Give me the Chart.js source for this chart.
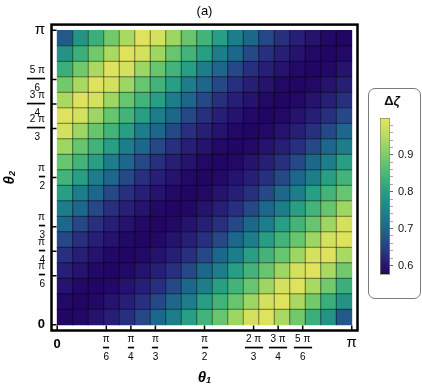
<!DOCTYPE html>
<html>
<head>
<meta charset="utf-8">
<script src="https://cdn.jsdelivr.net/npm/chart.js@4.4.1/dist/chart.umd.min.js"></script>
<style>
  body { margin: 0; background: #fff; }
  #wrap { position: relative; width: 422px; height: 390px; }
  #main { position: absolute; left: 0; top: 0; }
  #legendBox { position: absolute; left: 368px; top: 88px; width: 53px; height: 211px; box-sizing: border-box;
               border: 1.5px solid #7a7a7a; border-radius: 7px; }
  #legendTitle { position: absolute; left: 370px; top: 93px; width: 44px; text-align: center;
                 font: bold 13px 'Liberation Sans', Arial, sans-serif; color: #111; }
  #cbar { position: absolute; left: 370px; top: 90px; }
</style>
</head>
<body>
<div id="wrap">
  <canvas id="main" width="422" height="390"></canvas>
  <div id="legendBox"></div>
  <div id="legendTitle">Δ<i>ζ</i></div>
  <canvas id="cbar" width="50" height="206"></canvas>
</div>
<script>
const PI = Math.PI;
const FONT = "'Liberation Sans', Arial, sans-serif";

// 19 x 19 cells over theta1, theta2 in [0, pi]
const nCells = 19;

// tick positions and labels (fractions of pi)
const tickValues = [0, PI / 6, PI / 4, PI / 3, PI / 2, 2 * PI / 3, 3 * PI / 4, 5 * PI / 6, PI];
const xTickLabels = ['0', ['π', '━', '6'], ['π', '━', '4'], ['π', '━', '3'], ['π', '━', '2'],
                     ['2 π', '━━━', '3'], ['3 π', '━━━', '4'], ['5 π', '━━━', '6'], 'π'];
const yTickLabels = ['0', ['π', '━', '6'], ['π', '━', '4'], ['π', '━', '3'], ['π', '━', '2'],
                     ['2 π', '━━━', '3\u2002'], ['3 π', '━━━', '4\u2002'], ['5 π', '━━━', '6\u2002'], 'π'];

// delta zeta per cell, rows from theta2 = pi (top) down to theta2 = 0, columns theta1 = 0 .. pi
const dzRows = [
  [0.68,0.78,0.83,0.89,0.94,0.99,0.98,0.93,0.88,0.84,0.80,0.74,0.70,0.66,0.63,0.61,0.595,0.58,0.577],
  [0.78,0.83,0.89,0.94,0.99,0.98,0.93,0.88,0.84,0.80,0.74,0.70,0.66,0.63,0.61,0.595,0.58,0.577,0.58],
  [0.83,0.89,0.94,0.99,0.98,0.93,0.88,0.84,0.80,0.74,0.70,0.66,0.63,0.61,0.595,0.58,0.577,0.58,0.595],
  [0.89,0.94,0.99,0.98,0.93,0.88,0.84,0.80,0.74,0.70,0.66,0.63,0.61,0.595,0.58,0.577,0.58,0.595,0.61],
  [0.94,0.99,0.98,0.93,0.88,0.84,0.80,0.74,0.70,0.66,0.63,0.61,0.595,0.58,0.577,0.58,0.595,0.61,0.63],
  [0.99,0.98,0.93,0.88,0.84,0.80,0.74,0.70,0.66,0.63,0.61,0.595,0.58,0.577,0.58,0.595,0.61,0.63,0.66],
  [0.98,0.93,0.88,0.84,0.80,0.74,0.70,0.66,0.63,0.61,0.595,0.58,0.577,0.58,0.595,0.61,0.63,0.66,0.70],
  [0.93,0.88,0.84,0.80,0.74,0.70,0.66,0.63,0.61,0.595,0.58,0.577,0.58,0.595,0.61,0.63,0.66,0.70,0.74],
  [0.88,0.84,0.80,0.74,0.70,0.66,0.63,0.61,0.595,0.58,0.577,0.58,0.595,0.61,0.63,0.66,0.70,0.74,0.80],
  [0.84,0.80,0.74,0.70,0.66,0.63,0.61,0.595,0.58,0.575,0.58,0.595,0.61,0.63,0.66,0.70,0.74,0.80,0.84],
  [0.80,0.74,0.70,0.66,0.63,0.61,0.595,0.58,0.577,0.58,0.595,0.61,0.63,0.66,0.70,0.74,0.80,0.84,0.88],
  [0.74,0.70,0.66,0.63,0.61,0.595,0.58,0.577,0.58,0.595,0.61,0.63,0.66,0.70,0.74,0.80,0.84,0.88,0.93],
  [0.70,0.66,0.63,0.61,0.595,0.58,0.577,0.58,0.595,0.61,0.63,0.66,0.70,0.74,0.80,0.84,0.88,0.93,0.98],
  [0.66,0.63,0.61,0.595,0.58,0.577,0.58,0.595,0.61,0.63,0.66,0.70,0.74,0.80,0.84,0.88,0.93,0.98,0.99],
  [0.63,0.61,0.595,0.58,0.577,0.58,0.595,0.61,0.63,0.66,0.70,0.74,0.80,0.84,0.88,0.93,0.98,0.99,0.94],
  [0.61,0.595,0.58,0.577,0.58,0.595,0.61,0.63,0.66,0.70,0.74,0.80,0.84,0.88,0.93,0.98,0.99,0.94,0.89],
  [0.595,0.58,0.577,0.58,0.595,0.61,0.63,0.66,0.70,0.74,0.80,0.84,0.88,0.93,0.98,0.99,0.94,0.89,0.83],
  [0.58,0.577,0.58,0.595,0.61,0.63,0.66,0.70,0.74,0.80,0.84,0.88,0.93,0.98,0.99,0.94,0.89,0.83,0.78],
  [0.577,0.58,0.595,0.61,0.63,0.66,0.70,0.74,0.80,0.84,0.88,0.93,0.98,0.99,0.94,0.89,0.83,0.78,0.68]
];

// colour bar range and ticks
const cbMin = 0.575, cbMax = 1.0;
const cbTicks = [0.6,0.62,0.64,0.66,0.68,0.7,0.72,0.74,0.76,0.78,0.8,0.82,0.84,0.86,0.88,0.9,0.92,0.94,0.96,0.98];
const cbMajor = [0.6, 0.7, 0.8, 0.9];

// colour map stops (position 0..1 along the bar)
const cmap = [
  [0.00, [33, 6, 98]],
  [0.06, [38, 22, 112]],
  [0.15, [42, 55, 132]],
  [0.29, [30, 102, 140]],
  [0.41, [30, 130, 138]],
  [0.53, [40, 158, 132]],
  [0.65, [75, 185, 118]],
  [0.76, [122, 204, 106]],
  [0.88, [180, 220, 96]],
  [1.00, [232, 228, 92]]
];

function colorFor(v) {
  let t = (v - cbMin) / (cbMax - cbMin);
  t = Math.max(0, Math.min(1, t));
  for (let i = 1; i < cmap.length; i++) {
    if (t <= cmap[i][0]) {
      const [t0, c0] = cmap[i - 1], [t1, c1] = cmap[i];
      const f = (t - t0) / (t1 - t0);
      const c = c0.map((a, k) => Math.round(a + (c1[k] - a) * f));
      return 'rgb(' + c.join(',') + ')';
    }
  }
  return 'rgb(' + cmap[cmap.length - 1][1].join(',') + ')';
}

// build points for cells and mesh lines
const cell = PI / nCells;
const heatPoints = [];
dzRows.forEach((row, r) => {
  const j = nCells - 1 - r;
  row.forEach((v, i) => heatPoints.push({x: (i + 0.5) * cell, y: (j + 0.5) * cell, v: v}));
});
const meshV = [], meshH = [];
for (let k = 1; k < nCells; k++) {
  meshV.push({x: k * cell, y: 0}, {x: k * cell, y: PI}, {x: k * cell, y: null});
  meshH.push({x: 0, y: k * cell}, {x: PI, y: k * cell}, {x: null, y: k * cell});
}

const pad = 0.061;

function tickFont(ctx, labels) {
  const lab = labels[ctx.index];
  if (lab === '0') return {family: FONT, size: 13, weight: 'bold', lineHeight: '18px'};
  if (lab === 'π') return {family: FONT, size: 15, lineHeight: '20px'};
  return {family: FONT, size: 10, lineHeight: '9px'};
}

const framePlugin = {
  id: 'frame',
  afterDraw(chart) {
    const {ctx, chartArea: a} = chart;
    const x = chart.scales.x, y = chart.scales.y;
    ctx.save();
    ctx.strokeStyle = '#000';
    ctx.lineWidth = 2.5;
    ctx.strokeRect(a.left, a.top, a.right - a.left, a.bottom - a.top);
    ctx.lineWidth = 1.5;
    ctx.beginPath();
    tickValues.forEach(v => {
      const px = x.getPixelForValue(v);
      ctx.moveTo(px, a.bottom);
      ctx.lineTo(px, a.bottom - 5);
      const py = y.getPixelForValue(v);
      ctx.moveTo(a.left, py);
      ctx.lineTo(a.left + 5, py);
    });
    ctx.stroke();
    ctx.restore();
  }
};

new Chart(document.getElementById('main'), {
  type: 'scatter',
  data: {
    datasets: [
      {data: meshV, showLine: true, borderColor: 'rgba(0,0,0,0.5)', borderWidth: 1, pointRadius: 0, order: 0},
      {data: meshH, showLine: true, borderColor: 'rgba(0,0,0,0.5)', borderWidth: 1, pointRadius: 0, order: 0},
      {
        data: heatPoints,
        order: 1,
        pointStyle: 'rect',
        pointBorderWidth: 0,
        borderWidth: 0,
        pointBackgroundColor: ctx => colorFor(ctx.raw.v),
        pointRadius: ctx => {
          const s = ctx.chart.scales.x;
          const w = Math.abs(s.getPixelForValue(cell) - s.getPixelForValue(0));
          return (w / 2 + 0.4) * Math.SQRT2;
        }
      }
    ]
  },
  options: {
    responsive: false,
    animation: false,
    events: [],
    layout: {padding: {left: 0, right: 64.5, top: 0, bottom: 0}},
    plugins: {
      legend: {display: false},
      tooltip: {enabled: false},
      title: {
        display: true, text: '(a)', fullSize: false, color: '#000',
        font: {family: FONT, size: 13, weight: 'normal'},
        padding: {top: 4, bottom: 5}
      }
    },
    scales: {
      x: {
        type: 'linear', min: -pad, max: PI + pad,
        afterBuildTicks: a => { a.ticks = tickValues.map(v => ({value: v})); },
        afterFit: s => { s.height = 59.5; },
        grid: {display: false, drawTicks: false},
        border: {display: false},
        ticks: {
          autoSkip: false, maxRotation: 0, padding: 9, crossAlign: 'center', color: '#000',
          font: ctx => tickFont(ctx, xTickLabels),
          callback: (v, i) => xTickLabels[i]
        },
        title: {
          display: true, text: 'θ₁', color: '#000',
          font: {family: FONT, size: 15, weight: 'bold', style: 'italic'},
          padding: {top: 0, bottom: 3}
        }
      },
      y: {
        type: 'linear', min: -pad, max: PI + pad,
        afterBuildTicks: a => { a.ticks = tickValues.map(v => ({value: v})); },
        afterFit: s => { s.width = 51.5; },
        grid: {display: false, drawTicks: false},
        border: {display: false},
        ticks: {
          autoSkip: false, padding: 6.5, color: '#000',
          font: ctx => tickFont(ctx, yTickLabels),
          callback: (v, i) => yTickLabels[i]
        },
        title: {
          display: true, text: 'θ₂', color: '#000',
          font: {family: FONT, size: 15, weight: 'bold', style: 'italic'},
          padding: {top: 1, bottom: 0}
        }
      }
    }
  },
  plugins: [framePlugin]
});

// colour bar
new Chart(document.getElementById('cbar'), {
  type: 'bar',
  data: {
    labels: ['Δζ'],
    datasets: [{
      data: [[cbMin, cbMax]],
      barPercentage: 1,
      categoryPercentage: 1,
      borderWidth: 1,
      borderSkipped: false,
      borderColor: 'rgba(110,110,80,0.8)',
      backgroundColor: ctx => {
        const chart = ctx.chart;
        if (!chart.chartArea) return colorFor(0.8);
        const ys = chart.scales.y;
        const g = chart.ctx.createLinearGradient(0, ys.getPixelForValue(cbMin), 0, ys.getPixelForValue(cbMax));
        cmap.forEach(([t, c]) => g.addColorStop(t, 'rgb(' + c.join(',') + ')'));
        return g;
      }
    }]
  },
  options: {
    responsive: false,
    animation: false,
    events: [],
    layout: {padding: {left: 10, top: 28, bottom: 21.3, right: 0}},
    plugins: {legend: {display: false}, tooltip: {enabled: false}},
    scales: {
      x: {display: false},
      y: {
        position: 'right', min: cbMin, max: cbMax,
        afterBuildTicks: a => { a.ticks = cbTicks.map(v => ({value: v})); },
        afterFit: s => { s.width = 30; },
        grid: {
          drawOnChartArea: false, drawTicks: true, tickLength: 3, tickWidth: 1,
          tickColor: ctx => cbMajor.some(m => Math.abs(m - ctx.tick.value) < 1e-9) ? '#666' : '#aaa'
        },
        border: {display: false},
        ticks: {
          autoSkip: false, padding: 5, color: '#111',
          font: {family: FONT, size: 11},
          callback: v => cbMajor.some(m => Math.abs(m - v) < 1e-9) ? v.toFixed(1) : ''
        }
      }
    }
  }
});
</script>
</body>
</html>
